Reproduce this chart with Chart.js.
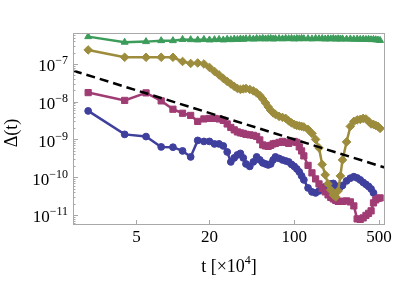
<!DOCTYPE html>
<html lang="en">
<head>
<meta charset="UTF-8">
<title>Delta(t) decay</title>
<script src="https://cdn.jsdelivr.net/npm/chart.js"></script>
<style>
  html, body { margin: 0; padding: 0; background: #fff; }
  #wrap { width: 395px; height: 281px; }
</style>
</head>
<body>
<div id="wrap"><canvas id="chart" width="395" height="281"></canvas></div>
<script>
// t in units of 10^4
const times = [2, 4, 6, 8, 10, 12, 14, 16, 18, 20, 22, 24, 26, 28, 30, 32, 34, 36, 38, 40,
  43, 46, 49, 52, 55, 58, 61, 64, 67, 70, 75, 80, 85, 90, 95, 100, 105, 110, 115, 120,
  130, 140, 150, 160, 170, 180, 190, 200, 210, 220, 230, 240, 250,
  270, 290, 310, 330, 350, 370, 390, 410, 430, 450, 470, 490, 510];

const greenSeries = [5.29e-7, 3.76e-7, 3.90e-7, 4.14e-7, 4.14e-7, 4.46e-7, 4.40e-7, 4.32e-7, 4.46e-7, 4.32e-7,
  4.40e-7, 4.46e-7, 4.32e-7, 4.50e-7, 4.40e-7, 4.55e-7, 4.46e-7, 4.60e-7, 4.50e-7, 4.62e-7,
  4.68e-7, 4.55e-7, 4.70e-7, 4.62e-7, 4.75e-7, 4.60e-7, 4.68e-7, 4.72e-7, 4.58e-7, 4.66e-7,
  4.70e-7, 4.62e-7, 4.75e-7, 4.66e-7, 4.72e-7, 4.60e-7, 4.70e-7, 4.64e-7, 4.74e-7, 4.66e-7,
  4.68e-7, 4.60e-7, 4.72e-7, 4.64e-7, 4.70e-7, 4.58e-7, 4.66e-7, 4.62e-7, 4.70e-7, 4.56e-7, 4.64e-7, 4.58e-7, 4.62e-7,
  4.55e-7, 4.60e-7, 4.50e-7, 4.56e-7, 4.48e-7, 4.52e-7, 4.44e-7, 4.50e-7, 4.40e-7, 4.44e-7, 4.36e-7, 4.30e-7, 4.20e-7];

const oliveSeries = [2.35e-7, 1.50e-7, 1.50e-7, 1.50e-7, 1.50e-7, 1.16e-7, 1.03e-7, 1.06e-7, 1.00e-7, 8.08e-8,
  6.33e-8, 5.11e-8, 4.13e-8, 3.44e-8, 2.95e-8, 2.54e-8, 2.24e-8, 2.11e-8, 2.18e-8, 2.24e-8,
  2.11e-8, 1.93e-8, 1.71e-8, 1.46e-8, 1.18e-8, 9.27e-9, 7.26e-9, 5.86e-9, 5.04e-9, 4.60e-9,
  4.07e-9, 3.83e-9, 3.60e-9, 3.09e-9, 2.74e-9, 2.50e-9, 2.35e-9, 2.28e-9, 2.21e-9, 2.14e-9,
  1.84e-9, 1.44e-9, 1.00e-9, 5.95e-10, 2.18e-10, 1.15e-10, 6.63e-11, 4.60e-11, 3.39e-11, 3.00e-11, 4.32e-11, 1.08e-10, 2.86e-10,
  8.59e-10, 2.21e-9, 3.00e-9, 3.29e-9, 3.39e-9, 3.60e-9, 3.49e-9, 3.00e-9, 2.57e-9, 2.50e-9, 2.35e-9, 2.21e-9, 1.96e-9];

const magentaSeries = [1.74e-8, 1.08e-8, 1.71e-8, 1.05e-8, 6.31e-9, 4.94e-9, 4.32e-9, 3.00e-9, 3.49e-9, 3.60e-9,
  3.60e-9, 3.49e-9, 3.19e-9, 2.57e-9, 2.08e-9, 1.79e-9, 1.58e-9, 1.49e-9, 1.44e-9, 1.36e-9,
  1.32e-9, 1.28e-9, 1.20e-9, 9.70e-10, 7.15e-10, 6.73e-10, 6.53e-10, 6.94e-10, 7.60e-10, 7.83e-10,
  8.33e-10, 8.85e-10, 8.33e-10, 7.83e-10, 8.59e-10, 8.85e-10, 8.33e-10, 6.33e-10, 4.96e-10, 3.66e-10,
  2.05e-10, 1.30e-10, 8.99e-11, 6.63e-11, 5.04e-11, 4.07e-11, 3.39e-11, 2.91e-11, 2.65e-11, 2.42e-11, 2.28e-11, 2.28e-11, 2.28e-11,
  2.35e-11, 2.21e-11, 1.73e-11, 7.83e-12, 7.60e-12, 8.33e-12, 9.70e-12, 1.10e-11, 1.28e-11, 2.08e-11, 2.50e-11, 2.74e-11, 2.82e-11];

const blueSeries = [5.69e-9, 1.36e-9, 1.19e-9, 6.33e-10, 6.22e-10, 4.96e-10, 3.44e-10, 9.41e-10, 8.85e-10, 8.85e-10,
  7.60e-10, 7.60e-10, 6.73e-10, 4.67e-10, 2.54e-10, 3.24e-10, 3.89e-10, 4.26e-10, 3.24e-10, 2.24e-10,
  1.93e-10, 2.54e-10, 3.44e-10, 2.86e-10, 2.39e-10, 2.24e-10, 2.11e-10, 2.24e-10, 2.86e-10, 3.44e-10,
  3.14e-10, 2.86e-10, 2.69e-10, 2.54e-10, 2.18e-10, 1.93e-10, 1.65e-10, 1.38e-10, 1.08e-10, 8.46e-11,
  5.19e-11, 4.07e-11, 3.83e-11, 4.32e-11, 5.04e-11, 5.62e-11, 6.23e-11, 6.63e-11, 6.83e-11, 5.86e-11, 5.10e-11, 5.52e-11, 6.05e-11,
  7.96e-11, 9.38e-11, 1.03e-10, 9.55e-11, 8.46e-11, 7.26e-11, 6.43e-11, 5.69e-11, 4.88e-11, 3.83e-11, null, null, null];

// dashed guide line, ends at the plot edges
const guideT = [1.5, 560];
const guideV = [6.67e-8, 1.79e-10];

const xTicks = [5, 20, 100, 500];
const yTicks = [1e-11, 1e-10, 1e-9, 1e-8, 1e-7];

const serif = '"Liberation Serif", "Times New Roman", serif';

function pts(vals, ts) {
  return (ts || times).map((t, i) => ({ x: t, y: vals[i] }));
}

// frame, inward ticks, y labels with exponents, axis titles
const framePlugin = {
  id: 'frame',
  afterDraw(chart) {
    const { ctx, chartArea: a, scales: { x, y } } = chart;
    ctx.save();
    ctx.strokeStyle = '#a8a8a8';
    ctx.lineWidth = 1;
    ctx.strokeRect(a.left + 0.5, a.top + 0.5, a.right - a.left - 1, a.bottom - a.top - 1);

    ctx.beginPath();
    xTicks.forEach(v => {
      const px = Math.round(x.getPixelForValue(v)) + 0.5;
      ctx.moveTo(px, a.bottom);
      ctx.lineTo(px, a.bottom - 5);
    });
    for (let d = -12; d <= -7; d++) {
      for (let k = 1; k <= 9; k++) {
        const v = k * Math.pow(10, d);
        if (v < y.min || v > y.max) continue;
        const py = Math.round(y.getPixelForValue(v)) + 0.5;
        ctx.moveTo(a.left, py);
        ctx.lineTo(a.left + (k === 1 ? 5 : 2.5), py);
      }
    }
    ctx.stroke();

    // y tick labels 10^n
    ctx.fillStyle = '#000';
    ctx.textBaseline = 'alphabetic';
    ctx.textAlign = 'left';
    const right = 68;
    yTicks.forEach(v => {
      const py = y.getPixelForValue(v);
      const exp = '\u2212' + Math.abs(Math.round(Math.log10(v)));
      ctx.font = '12px ' + serif;
      const we = ctx.measureText(exp).width;
      ctx.font = '17px ' + serif;
      const wb = ctx.measureText('10').width;
      ctx.fillText('10', right - we - wb, py + 7.5);
      ctx.font = '12px ' + serif;
      ctx.fillText(exp, right - we, py + 0.5);
    });

    // y title
    ctx.save();
    ctx.translate(12, 133);
    ctx.rotate(-Math.PI / 2);
    ctx.textAlign = 'center';
    ctx.textBaseline = 'middle';
    ctx.font = '18px ' + serif;
    ctx.fillText('\u0394(t)', 0, 0);
    ctx.restore();

    // x title: t [x10^4]
    const parts = [['t [\u00d710', 18, 0], ['4', 12, -8], [']', 18, 0]];
    let total = 0;
    parts.forEach(p => { ctx.font = p[1] + 'px ' + serif; total += ctx.measureText(p[0]).width; });
    let cx = (a.left + a.right) / 2 - total / 2;
    parts.forEach(p => {
      ctx.font = p[1] + 'px ' + serif;
      ctx.fillText(p[0], cx, 272 + p[2]);
      cx += ctx.measureText(p[0]).width;
    });
    ctx.restore();
  }
};

const common = { borderWidth: 2.5, pointBorderWidth: 1, fill: false, tension: 0 };

new Chart(document.getElementById('chart'), {
  type: 'line',
  data: {
    datasets: [
      { ...common, label: 'guide', data: pts(guideV, guideT), borderColor: '#000', borderWidth: 2.5,
        borderDash: [9, 5], pointRadius: 0, order: 0 },
      { ...common, label: 'green', data: pts(greenSeries), borderColor: '#3c9c5a', backgroundColor: '#3c9c5a',
        pointStyle: 'triangle', pointRadius: 4, order: 1 },
      { ...common, label: 'olive', data: pts(oliveSeries), borderColor: '#9c8c3c', backgroundColor: '#9c8c3c',
        pointStyle: 'rectRot', pointRadius: 4.3, order: 2 },
      { ...common, label: 'magenta', data: pts(magentaSeries), borderColor: '#a03c74', backgroundColor: '#a03c74',
        pointStyle: 'rect', pointRadius: 4.4, order: 3 },
      { ...common, label: 'blue', data: pts(blueSeries), borderColor: '#3f3f9e', backgroundColor: '#3f3f9e',
        pointStyle: 'circle', pointRadius: 3.4, order: 4 }
    ]
  },
  options: {
    responsive: false,
    animation: false,
    devicePixelRatio: 1,
    layout: { padding: { top: 33, right: 10, left: 0, bottom: 0 } },
    plugins: { legend: { display: false }, tooltip: { enabled: false } },
    scales: {
      x: {
        type: 'logarithmic',
        min: 1.5,
        max: 560,
        grid: { display: false },
        border: { display: false },
        afterBuildTicks: s => { s.ticks = xTicks.map(v => ({ value: v })); },
        afterFit: s => { s.height = 56; },
        ticks: {
          autoSkip: false,
          maxRotation: 0,
          padding: -6,
          color: '#000',
          font: { family: serif, size: 17 },
          callback: v => String(v)
        }
      },
      y: {
        type: 'logarithmic',
        min: 5.4e-12,
        max: 6.6e-7,
        grid: { display: false },
        border: { display: false },
        ticks: { display: false },
        afterFit: s => { s.width = 73; }
      }
    }
  },
  plugins: [framePlugin]
});
</script>
</body>
</html>
